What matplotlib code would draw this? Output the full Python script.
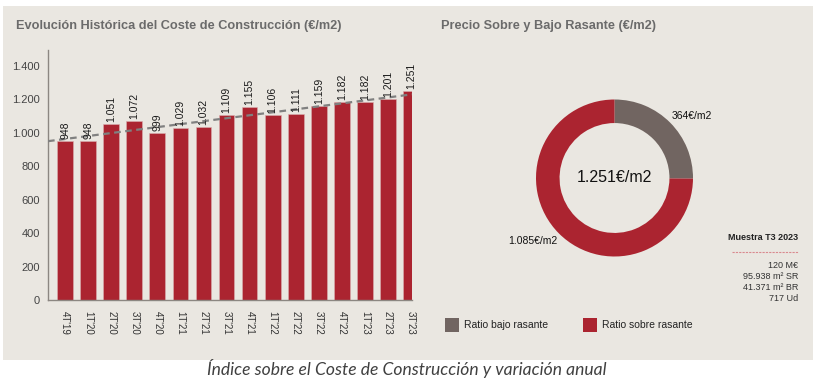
import matplotlib.pyplot as plt
from matplotlib.patches import Rectangle
import numpy as np

# datos
trimestres = ["4T'19", "1T'20", "2T'20", "3T'20", "4T'20", "1T'21", "2T'21", "3T'21",
              "4T'21", "1T'22", "2T'22", "3T'22", "4T'22", "1T'23", "2T'23", "3T'23"]
coste = [948, 948, 1051, 1072, 999, 1029, 1032, 1109, 1155, 1106, 1111, 1159, 1182, 1182, 1201, 1251]

rasante_labels = ["Ratio bajo rasante", "Ratio sobre rasante"]
rasante_valores = [364, 1085]
total = 1251

muestra = ["120 M€", "95.938 m² SR", "41.371 m² BR", "717 Ud"]

ROJO = '#ab2430'
GRIS = '#716561'
FONDO = '#eae7e1'
W, H = 817, 388


def fmt_miles(v):
    return f"{v:,.0f}".replace(",", ".")


def px(x, y):
    # pixeles (origen arriba-izquierda) -> fraccion de figura
    return x / W, 1 - y / H


plt.rcParams['font.family'] = ['Liberation Sans', 'DejaVu Sans']

fig = plt.figure(figsize=(W / 100, H / 100), dpi=100, facecolor='white')
fig.patches.append(Rectangle(px(3, 360), 810 / W, 354 / H, transform=fig.transFigure,
                             facecolor=FONDO, edgecolor='none', zorder=-10))

# --- grafico de barras ---
ax = fig.add_axes([48 / W, 1 - 300 / H, 364 / W, 250 / H])
ax.set_facecolor('none')
x = np.arange(len(coste))
ax.bar(x, coste, width=0.68, color=ROJO, edgecolor='#d9b0b0', linewidth=0.4, zorder=2)
for xi, v in zip(x, coste):
    ax.text(xi, v + 12, fmt_miles(v), rotation=90, ha='center', va='bottom',
            fontsize=7.5, color='#1a1a1a', zorder=4)

xl = (-0.74, 15.04)
k, b = np.polyfit(x, coste, 1)
xt = np.array(xl)
ax.plot(xt, k * xt + b, ls=(0, (3, 2)), color='#808080', lw=1.6, zorder=3)

ax.set_xlim(*xl)
ax.set_ylim(0, 1495)
ax.set_yticks(range(0, 1401, 200))
ax.set_yticklabels([fmt_miles(v) for v in range(0, 1401, 200)], fontsize=8, color='#444444')
ax.set_xticks(x)
ax.set_xticklabels(trimestres, rotation=270, fontsize=7, color='#333333')
ax.tick_params(length=0, pad=6)
ax.tick_params(axis='x', pad=8)
for s in ['top', 'right']:
    ax.spines[s].set_visible(False)
for s in ['left', 'bottom']:
    ax.spines[s].set_color('#8c8782')
    ax.spines[s].set_linewidth(1)

fig.text(*px(16, 26), "Evolución Histórica del Coste de Construcción (€/m2)", fontsize=9.2,
         fontweight='bold', color='#6b6b6b', va='center', ha='left')

# --- donut ---
r = 78.5
ax2 = fig.add_axes([(614.5 - r) / W, 1 - (178 + r) / H, 2 * r / W, 2 * r / H])
ax2.pie(rasante_valores, colors=[GRIS, ROJO], startangle=90, counterclock=False,
        radius=1, wedgeprops=dict(width=0.3, edgecolor='none'))
ax2.set_xlim(-1, 1)
ax2.set_ylim(-1, 1)
ax2.axis('off')
ax2.text(0, 0, fmt_miles(total) + "€/m2", ha='center', va='center', fontsize=11.5, color='#111111')

fig.text(*px(672, 116), f"{rasante_valores[0]}€/m2", fontsize=7.5, color='#111111', va='center', ha='left')
fig.text(*px(557, 241), fmt_miles(rasante_valores[1]) + "€/m2", fontsize=7.5, color='#111111',
         va='center', ha='right')

fig.text(*px(441, 26), "Precio Sobre y Bajo Rasante (€/m2)", fontsize=9.2,
         fontweight='bold', color='#6b6b6b', va='center', ha='left')

# leyenda
for i, (lab, col) in enumerate(zip(rasante_labels, [GRIS, ROJO])):
    x0 = [445, 583][i]
    fig.patches.append(Rectangle(px(x0, 332), 14 / W, 14 / H, transform=fig.transFigure,
                                 facecolor=col, edgecolor='none'))
    fig.text(*px(x0 + 19, 325), lab, fontsize=7.5, color='#222222', va='center', ha='left')

# muestra
fig.text(*px(798, 237), "Muestra T3 2023", fontsize=6.5, fontweight='bold', color='#222222',
         ha='right', va='center')
fig.add_artist(plt.Line2D([732 / W, 798 / W], [1 - 252 / H] * 2, transform=fig.transFigure,
                          color='#d98a8f', lw=0.8, ls=(0, (2, 1))))
for i, t in enumerate(muestra):
    fig.text(*px(798, 265 + i * 11.3), t, fontsize=6.5, color='#333333', ha='right', va='center')

# pie de figura
fig.text(*px(407, 368), "Índice sobre el Coste de Construcción y variación anual", fontsize=12.6,
         style='italic', family=['Lato', 'DejaVu Sans'], color='#404040', ha='center', va='center')

fig.savefig('out.png', dpi=100, facecolor='white')
